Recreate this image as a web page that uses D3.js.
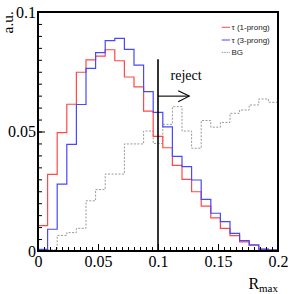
<!DOCTYPE html>
<html><head><meta charset="utf-8">
<script src="https://cdn.jsdelivr.net/npm/d3@7"></script>
<style>html,body{margin:0;padding:0;background:#fff;}svg{display:block;}</style>
</head><body>
<svg id="c" width="294" height="294"></svg>
<script>
// ---- data ----
const binEdgesMin = 0, binEdgesMax = 0.2, nBins = 25;
const tau1prong = [0.0106,0.0321,0.0495,0.0614,0.0748,0.0800,0.0815,0.0842,0.0796,0.0728,0.0687,0.0585,0.0480,0.0432,0.0358,0.0300,0.0248,0.0188,0.0139,0.0095,0.0064,0.0038,0.0024,0.0007,0.0004];
const tau3prong = [0.0007,0.0091,0.0280,0.0446,0.0613,0.0764,0.0830,0.0880,0.0890,0.0844,0.0778,0.0667,0.0580,0.0519,0.0396,0.0353,0.0297,0.0216,0.0158,0.0123,0.0074,0.0043,0.0026,0.0008,0.0005];
const background = [0.0005,0.0005,0.0065,0.0077,0.0095,0.0210,0.0257,0.0322,0.0322,0.0448,0.0448,0.0502,0.0450,0.0530,0.0604,0.0502,0.0430,0.0546,0.0518,0.0538,0.0576,0.0590,0.0611,0.0636,0.0622];
const xMajorTicks = [0, 0.05, 0.1, 0.15, 0.2];
const xTickLabels = ["0", "0.05", "0.1", "0.15", "0.2"];
const yMajorTicks = [0, 0.05, 0.1];
const yTickLabels = ["0", "0.05", "0.1"];
const legendLabels = ["τ (1-prong)", "τ (3-prong)", "BG"];
const cutValue = 0.1, cutTop = 0.0802;
const arrowEnd = 0.126, arrowY = 0.0648;

// ---- layout ----
const L = 38, R = 278, T = 12, B = 251;
const svg = d3.select("#c");
const x = d3.scaleLinear().domain([0, 0.2]).range([L, R]);
const y = d3.scaleLinear().domain([0, 0.1]).range([B, T]);
const serif = "'Liberation Serif','Times New Roman',serif";
const sans = "'Liberation Sans',Arial,sans-serif";

const bw = (binEdgesMax - binEdgesMin) / nBins;
function stepPts(vals) {
  const p = [[binEdgesMin, 0]];
  vals.forEach((v, i) => p.push([binEdgesMin + i * bw, v]));
  p.push([binEdgesMax, vals[vals.length - 1]]);
  return p;
}
const line = d3.line().x(d => x(d[0])).y(d => y(d[1])).curve(d3.curveStepAfter);

const series = [
  {vals: background, color: "#999", dash: "2,1.5", w: 1},
  {vals: tau1prong, color: "#ff4848", dash: null, w: 1.2},
  {vals: tau3prong, color: "#4848ff", dash: null, w: 1.2}
];
series.forEach(s => {
  svg.append("path").attr("d", line(stepPts(s.vals))).attr("fill", "none")
    .attr("stroke", s.color).attr("stroke-width", s.w)
    .attr("stroke-dasharray", s.dash);
});

// cut line
svg.append("line").attr("x1", x(cutValue)).attr("x2", x(cutValue))
  .attr("y1", y(0)).attr("y2", y(cutTop)).attr("stroke", "#000").attr("stroke-width", 1.6);
// arrow
const ax0 = x(cutValue), ax1 = x(arrowEnd), ay = y(arrowY);
svg.append("line").attr("x1", ax0).attr("x2", ax1).attr("y1", ay).attr("y2", ay)
  .attr("stroke", "#000").attr("stroke-width", 1.1);
svg.append("path").attr("d", `M${ax1-11},${ay-5.3}L${ax1},${ay}L${ax1-11},${ay+5.6}`)
  .attr("fill", "none").attr("stroke", "#000").attr("stroke-width", 1.1);
svg.append("text").attr("x", 170.5).attr("y", 80).attr("font-family", serif)
  .attr("font-size", 14).text("reject");

// axes
function minorTicks(a, b, step) { const t = []; for (let v = a; v <= b + 1e-9; v += step) t.push(+v.toFixed(4)); return t; }
const gx = svg.append("g").attr("transform", `translate(0,${B})`);
gx.call(d3.axisBottom(x).tickValues(minorTicks(0, 0.2, 0.005)).tickSize(-4).tickSizeOuter(0).tickFormat(""));
const gx2 = svg.append("g").attr("transform", `translate(0,${B})`);
gx2.call(d3.axisBottom(x).tickValues(xMajorTicks).tickSize(-7).tickSizeOuter(0).tickPadding(5)
  .tickFormat((d, i) => xTickLabels[i]));
const gy = svg.append("g").attr("transform", `translate(${L},0)`);
gy.call(d3.axisLeft(y).tickValues(minorTicks(0, 0.1, 0.005)).tickSize(-4).tickSizeOuter(0).tickFormat(""));
const gy2 = svg.append("g").attr("transform", `translate(${L},0)`);
gy2.call(d3.axisLeft(y).tickValues(yMajorTicks).tickSize(-7).tickSizeOuter(0).tickPadding(2)
  .tickFormat((d, i) => yTickLabels[i]));
svg.selectAll(".domain").remove();
svg.selectAll(".tick line").attr("stroke", "#000").attr("stroke-width", 1);
svg.selectAll(".tick text").attr("font-family", serif).attr("font-size", 16).attr("fill", "#000");

// frame
svg.append("rect").attr("x", L).attr("y", T).attr("width", R - L).attr("height", B - T)
  .attr("fill", "none").attr("stroke", "#000").attr("stroke-width", 2);

// axis titles
svg.append("text").attr("transform", "translate(13,11) rotate(-90)").attr("text-anchor", "end")
  .attr("font-family", serif).attr("font-size", 15.5).text("a.u.");
const xt = svg.append("text").attr("x", R).attr("y", 289).attr("text-anchor", "end")
  .attr("font-family", serif).attr("font-size", 16);
xt.append("tspan").text("R");
xt.append("tspan").attr("font-size", 11).attr("dy", 3).text("max");

// legend
const legY = [27.3, 40, 52.4];
const legSeries = [series[1], series[2], series[0]];
legSeries.forEach((s, i) => {
  svg.append("line").attr("x1", 221.7).attr("x2", 230).attr("y1", legY[i]).attr("y2", legY[i])
    .attr("stroke", s.color).attr("stroke-width", 1).attr("stroke-dasharray", s.dash ? "1.5,1" : null);
  svg.append("text").attr("x", 231.5).attr("y", legY[i] + 2.8).attr("font-family", sans)
    .attr("font-size", 8).attr("fill", "#222").text(legendLabels[i]);
});
</script>
</body></html>
